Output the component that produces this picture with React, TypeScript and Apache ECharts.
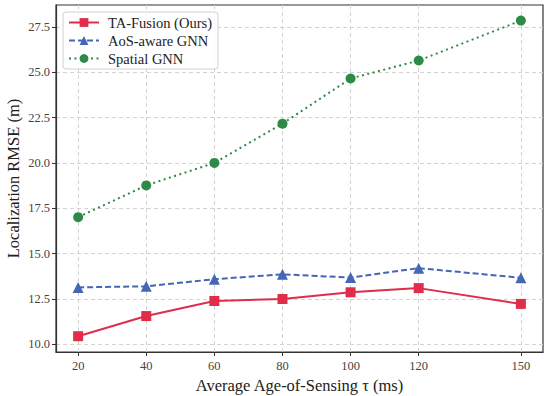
import React, { useEffect, useRef } from "react";
import * as echarts from "echarts";

const xValues = [20, 40, 60, 80, 100, 120, 150];
const xTicks = [20, 40, 60, 80, 100, 120, 150];
const yTicks = [10, 12.5, 15, 17.5, 20, 22.5, 25, 27.5];
const taFusion = [10.45, 11.56, 12.39, 12.5, 12.87, 13.1, 12.23];
const aosGnn = [13.14, 13.2, 13.59, 13.86, 13.68, 14.2, 13.67];
const spatialGnn = [17.01, 18.76, 20.0, 22.16, 24.65, 25.64, 27.84];

const FONT = "Liberation Serif";
const AXIS_COLOR = "#333333";

export default function App() {
  const ref = useRef<HTMLDivElement>(null);
  useEffect(() => {
    if (!ref.current) return;
    const chart = echarts.init(ref.current, undefined, { renderer: "svg" });
    const pair = (arr: number[]) => xValues.map((x, i) => [x, arr[i]]);
    chart.setOption({
      animation: false,
      backgroundColor: "#ffffff",
      textStyle: { fontFamily: FONT },
      grid: {
        left: 56, right: 7, top: 5, bottom: 44,
        containLabel: false, outerBoundsMode: "none",
        show: true, borderColor: AXIS_COLOR, borderWidth: 1.2, backgroundColor: "transparent",
      },
      legend: {
        left: 63,
        top: 12,
        orient: "vertical",
        itemWidth: 30,
        itemHeight: 11,
        itemGap: 3,
        padding: [3, 6, 3, 5],
        backgroundColor: "rgba(255,255,255,0.85)",
        borderColor: "#d0d0d0",
        borderWidth: 1,
        borderRadius: 3,
        textStyle: { fontFamily: FONT, fontSize: 14.5, color: "#222", padding: [0, 0, 0, 4] },
        data: ["TA-Fusion (Ours)", "AoS-aware GNN", "Spatial GNN"],
      },
      xAxis: {
        type: "value",
        min: 13.5,
        max: 156.5,
        name: "Average Age-of-Sensing \u03c4 (ms)",
        nameLocation: "middle",
        nameGap: 25,
        nameMoveOverlap: false,
        nameTextStyle: { fontFamily: FONT, fontSize: 16.5, color: "#222" },
        axisLine: { show: true, lineStyle: { color: AXIS_COLOR, width: 1.2 } },
        axisTick: { show: true, length: 4, lineStyle: { color: AXIS_COLOR }, customValues: xTicks },
        axisLabel: { fontFamily: FONT, fontSize: 12.5, color: "#444", margin: 7, customValues: xTicks, formatter: (v: number) => String(v) },
        splitLine: { show: true, lineStyle: { color: "#d3d3d3", type: [4, 3], width: 1 } },
      },
      yAxis: {
        type: "value",
        min: 9.58,
        max: 28.7,
        name: "Localization RMSE (m)",
        nameLocation: "middle",
        nameGap: 34,
        nameMoveOverlap: false,
        nameTextStyle: { fontFamily: FONT, fontSize: 16.5, color: "#222" },
        axisLine: { show: true, lineStyle: { color: AXIS_COLOR, width: 1.2 } },
        axisTick: { show: true, length: 4, lineStyle: { color: AXIS_COLOR }, customValues: yTicks },
        axisLabel: { fontFamily: FONT, fontSize: 12.5, color: "#444", margin: 6, customValues: yTicks, formatter: (v: number) => v.toFixed(1) },
        splitLine: { show: true, lineStyle: { color: "#d3d3d3", type: [4, 3], width: 1 } },
      },
      series: [
        {
          name: "TA-Fusion (Ours)",
          type: "line",
          data: pair(taFusion),
          symbol: "rect",
          symbolSize: 10,
          color: "#df2d4a",
          lineStyle: { width: 2, type: "solid" },
          itemStyle: { color: "#df2d4a" },
          z: 5,
        },
        {
          name: "AoS-aware GNN",
          type: "line",
          data: pair(aosGnn),
          symbol: "triangle",
          symbolSize: 11,
          color: "#4466b6",
          lineStyle: { width: 2, type: [6, 3] },
          itemStyle: { color: "#4466b6" },
          z: 4,
        },
        {
          name: "Spatial GNN",
          type: "line",
          data: pair(spatialGnn),
          symbol: "circle",
          symbolSize: 10,
          color: "#2d8b47",
          lineStyle: { width: 2, type: [2, 3.5] },
          itemStyle: { color: "#2d8b47" },
          z: 3,
        },
      ],
    });
    return () => chart.dispose();
  }, []);
  return <div ref={ref} style={{ width: 550, height: 396, position: "absolute", left: 0, top: 0 }} />;
}
